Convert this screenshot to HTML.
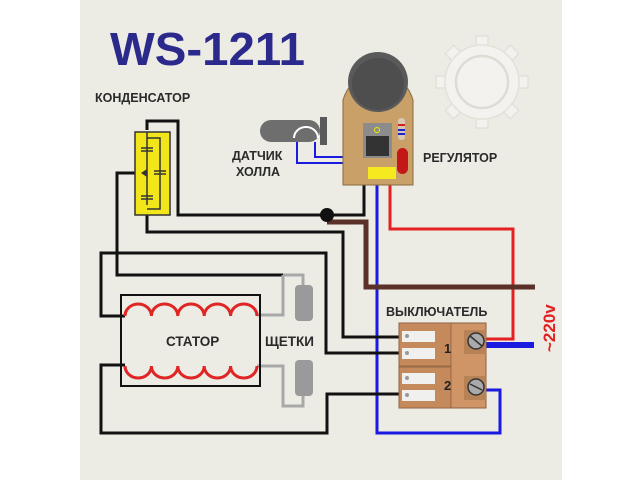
<!DOCTYPE html>
<html><head><meta charset="utf-8"><style>
html,body{margin:0;padding:0;background:#fff;width:640px;height:480px;overflow:hidden}
svg{display:block}
text{font-family:"Liberation Sans",Arial,sans-serif;font-weight:bold}
</style></head><body>
<svg width="640" height="480" viewBox="0 0 640 480" xmlns="http://www.w3.org/2000/svg">
<rect x="0" y="0" width="640" height="480" fill="#ffffff"/>
<rect x="80" y="0" width="482" height="480" fill="#ecebe4"/>
<!-- gear logo -->
<g fill="#f3f2ee" stroke="#e2e1da" stroke-width="1.5">
<g transform="translate(482,82)">
<rect x="-6" y="-46" width="12" height="12"/><rect x="-6" y="34" width="12" height="12"/>
<rect x="-46" y="-6" width="12" height="12"/><rect x="34" y="-6" width="12" height="12"/>
<rect x="-6" y="-46" width="12" height="12" transform="rotate(45)"/><rect x="-6" y="-46" width="12" height="12" transform="rotate(135)"/>
<rect x="-6" y="-46" width="12" height="12" transform="rotate(225)"/><rect x="-6" y="-46" width="12" height="12" transform="rotate(315)"/>
<circle r="37"/>
<circle r="26" fill="none" stroke="#dddcd4" stroke-width="2.5"/>
</g>
</g>
<text x="110" y="65" font-size="46" fill="#2b2a8c" textLength="195" lengthAdjust="spacingAndGlyphs">WS-1211</text>
<text x="95" y="102" font-size="12.5" fill="#2a2a2a">КОНДЕНСАТОР</text>
<text x="232" y="160" font-size="12.5" fill="#2a2a2a">ДАТЧИК</text>
<text x="236" y="176" font-size="12.5" fill="#2a2a2a">ХОЛЛА</text>
<text x="423" y="162" font-size="12.5" fill="#2a2a2a">РЕГУЛЯТОР</text>
<text x="166" y="346" font-size="13.5" fill="#2a2a2a">СТАТОР</text>
<text x="265" y="346" font-size="13.5" fill="#2a2a2a">ЩЕТКИ</text>
<text x="386" y="316" font-size="12.5" fill="#2a2a2a">ВЫКЛЮЧАТЕЛЬ</text>
<text transform="translate(555,352) rotate(-90)" font-size="17" fill="#e02020">~220v</text>

<g fill="none" stroke-linejoin="miter">
<polyline points="390,185 390,229 513,229 513,339 485,339" stroke="#e52020" stroke-width="3"/>
<polyline points="377,185 377,433 500,433 500,390 483,390" stroke="#1a1ae0" stroke-width="3"/>
<line x1="483" y1="345" x2="534" y2="345" stroke="#1a1ae0" stroke-width="6"/>
<polyline points="327,222 366,222 366,287 535,287" stroke="#5a3028" stroke-width="5"/>
<g stroke="#111" stroke-width="3">
<polyline points="147,130 147,121 178,121 178,215 327,215 364,215 364,185"/>
<polyline points="147,205 147,232 343,232 343,337 402,337"/>
<polyline points="140,173 117,173 117,275 283,275"/>
<polyline points="125,316 101,316 101,253 326,253 326,353 402,353"/>
<polyline points="125,365 101,365 101,433 327,433 327,394 402,394"/>
</g>
<g stroke="#a8a8a8" stroke-width="3">
<polyline points="283,275 303,275 303,290"/>
<polyline points="283,275 283,315 257,315"/>
<polyline points="257,366 283,366 283,406 303,406 303,390"/>
</g>
<polyline points="297,142 297,163 344,163" stroke="#1a1ae0" stroke-width="2"/>
<polyline points="315,142 315,157 344,157" stroke="#1a1ae0" stroke-width="2"/>
</g>
<circle cx="327" cy="215" r="7" fill="#111"/>

<rect x="135" y="132" width="35" height="83" fill="#f2e61a" stroke="#333" stroke-width="1.5"/>
<g stroke="#333" stroke-width="1.5" fill="none">
<polyline points="147,132 147,205"/>
<polyline points="147,138 160,138 160,209 147,209"/>
<line x1="141" y1="148" x2="153" y2="148"/><line x1="141" y1="151" x2="153" y2="151"/>
<line x1="154" y1="171" x2="166" y2="171"/><line x1="154" y1="174" x2="166" y2="174"/>
<line x1="141" y1="196" x2="153" y2="196"/><line x1="141" y1="199" x2="153" y2="199"/>
</g>
<polygon points="141,173 147,169 147,177" fill="#333"/>

<rect x="121" y="295" width="139" height="91" fill="none" stroke="#111" stroke-width="2"/>
<path d="M125,316 a13.2,12 0 0 1 26.4,0 a13.2,12 0 0 1 26.4,0 a13.2,12 0 0 1 26.4,0 a13.2,12 0 0 1 26.4,0 a13.2,12 0 0 1 26.4,0" fill="none" stroke="#e02525" stroke-width="3"/>
<path d="M125,366 a13.2,12 0 0 0 26.4,0 a13.2,12 0 0 0 26.4,0 a13.2,12 0 0 0 26.4,0 a13.2,12 0 0 0 26.4,0 a13.2,12 0 0 0 26.4,0" fill="none" stroke="#e02525" stroke-width="3"/>
<rect x="295" y="285" width="18" height="36" rx="4" fill="#9a9a9a"/>
<rect x="295" y="360" width="18" height="36" rx="4" fill="#9a9a9a"/>

<rect x="399" y="323" width="87" height="85" fill="#cf9567" stroke="#8a6040"/>
<rect x="399" y="323" width="52" height="43" fill="#c58a5c" stroke="#8a6040" stroke-width="0.8"/>
<rect x="399" y="367" width="52" height="41" fill="#c58a5c" stroke="#8a6040" stroke-width="0.8"/>
<rect x="464" y="330" width="22" height="24" fill="#b88257"/>
<rect x="464" y="376" width="22" height="24" fill="#b88257"/>
<g fill="#f0f0ee"><rect x="402" y="331" width="33" height="11"/><rect x="402" y="348" width="33" height="11"/><rect x="402" y="373" width="33" height="11"/><rect x="402" y="390" width="33" height="11"/></g>
<g fill="#999"><circle cx="407" cy="336" r="2"/><circle cx="407" cy="353" r="2"/><circle cx="407" cy="378" r="2"/><circle cx="407" cy="395" r="2"/></g>
<text x="444" y="353" font-size="13" fill="#222">1</text>
<text x="444" y="390" font-size="13" fill="#222">2</text>
<g stroke="#333" stroke-width="1.5"><circle cx="476" cy="341" r="8" fill="#aaa"/><line x1="470" y1="336" x2="482" y2="346"/>
<circle cx="476" cy="387" r="8" fill="#aaa"/><line x1="470" y1="384" x2="482" y2="390"/></g>

<rect x="260" y="120" width="60" height="22" rx="11" fill="#6e6e6e"/>
<rect x="320" y="117" width="7" height="28" fill="#5a5a5a"/>
<path d="M294,138 a12,11 0 0 1 24,0" fill="none" stroke="#fff" stroke-width="2"/>

<path d="M343,100 Q346,90 352,84 L404,84 Q410,90 413,100 L413,185 L343,185 Z" fill="#c9a067" stroke="#8a6a40"/>
<circle cx="378" cy="82" r="30" fill="#5a5a5a"/>
<circle cx="378" cy="84" r="26" fill="#4e4e4e"/>
<rect x="363" y="123" width="29" height="35" fill="#8c8c8c"/>
<rect x="366" y="136" width="23" height="20" fill="#333"/>
<circle cx="377" cy="130" r="2.5" fill="none" stroke="#ee0" stroke-width="1"/>
<rect x="398" y="118" width="7" height="22" rx="3" fill="#d9c8b0"/>
<rect x="398" y="124" width="7" height="2" fill="#d02020"/><rect x="398" y="129" width="7" height="2" fill="#2020d0"/><rect x="398" y="133" width="7" height="2" fill="#2020d0"/>
<rect x="397" y="148" width="11" height="26" rx="5.5" fill="#c41818"/>
<rect x="368" y="167" width="28" height="12" fill="#f5ea20"/>
</svg>
</body></html>
